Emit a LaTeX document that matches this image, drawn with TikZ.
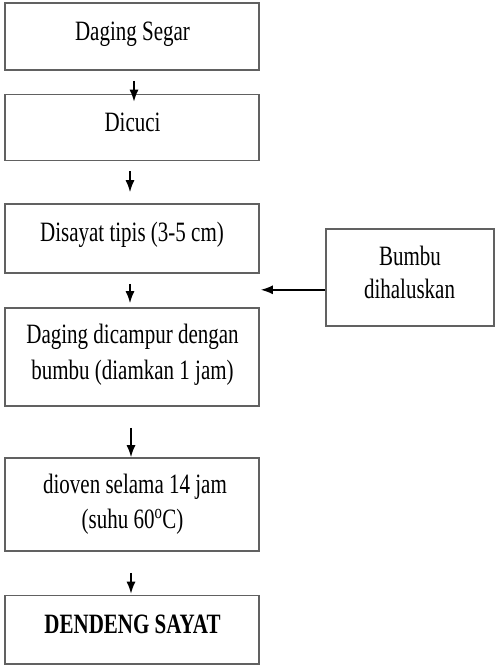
\documentclass[tikz,border=0pt]{standalone}
\usepackage{fontspec}
\setmainfont{Liberation Serif}[FakeStretch=0.75]
\usetikzlibrary{arrows.meta}
\begin{document}
\begin{tikzpicture}[x=1pt,y=-1pt,
  box/.style={draw=black!62, line width=1.6pt, rectangle, inner sep=0pt, minimum width=254pt},
  txt/.style={inner sep=0pt, anchor=base, font=\fontsize{28}{36}\selectfont},
  arr/.style={draw=black, line width=1.5pt, -{Latex[length=12pt,width=9pt]}}]
\useasboundingbox (0,0) rectangle (495,671);
% boxes
\node[box, minimum height=67pt]   (b1) at (132,36.5) {};
\node[box, minimum height=66pt]   (b2) at (132,127.5) {};
\node[box, minimum height=69pt]   (b3) at (132,238.5) {};
\node[box, minimum height=98pt]   (b4) at (132,357) {};
\node[box, minimum height=93pt]   (b5) at (132,504.5) {};
\node[box, minimum height=68.5pt] (b6) at (132,629.75) {};
\node[box, minimum width=168pt, minimum height=97pt] (bumbu) at (410,277.5) {};
% texts
\node[txt] (t1)  at (132.5,40.7) {Daging Segar};
\node[txt] (t2)  at (132.5,131.7) {Dicuci};
\node[txt] (t3)  at (132,241.7) {Disayat tipis (3-5 cm)};
\node[txt] (t4a) at (132.5,343.5) {Daging dicampur dengan};
\node[txt] (t4b) at (132.5,379) {bumbu (diamkan 1 jam)};
\node[txt] (t5a) at (135,493) {dioven selama 14 jam};
\node[txt] (t5b) at (132.5,528) {(suhu 60\textsuperscript{o}C)};
\node[txt, font=\fontsize{28}{36}\selectfont\bfseries] (t6) at (132.5,633) {DENDENG SAYAT};
\node[txt] (tb1) at (410,265) {Bumbu};
\node[txt] (tb2) at (409.5,298) {dihaluskan};
% connectors
\draw[arr] ([xshift=2pt,yshift=-10pt]b1.south) -- ([xshift=2pt,yshift=-8pt]b2.north);
\draw[arr] ([xshift=-2pt,yshift=-10pt]b2.south) -- ([xshift=-2pt,yshift=11pt]b3.north);
\draw[arr] ([xshift=-2pt,yshift=-10pt]b3.south) -- ([xshift=-2pt,yshift=4pt]b4.north);
\draw[arr] ([xshift=-1pt,yshift=-21pt]b4.south) -- ([xshift=-1pt]b5.north);
\draw[arr] ([xshift=-1pt,yshift=-21pt]b5.south) -- ([xshift=-1pt,yshift=1pt]b6.north);
\coordinate (m) at ([yshift=-16pt]b3.south east);
\draw[arr] (bumbu.west |- m) -- ([xshift=1pt]m);
\end{tikzpicture}
\end{document}
